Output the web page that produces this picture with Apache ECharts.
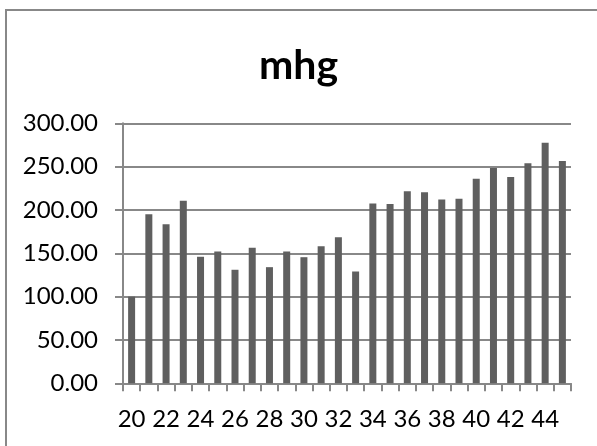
<!DOCTYPE html>
<html><head><meta charset="utf-8">
<script src="https://cdn.jsdelivr.net/npm/echarts@6/dist/echarts.min.js"></script>
<style>html,body{margin:0;padding:0;background:#fff}#c{width:597px;height:446px}</style>
</head><body><div id="c"></div>
<script>
const categories = ['20','21','22','23','24','25','26','27','28','29','30','31','32','33','34','35','36','37','38','39','40','41','42','43','44','45'];
const values = [100,195,183.5,210.5,146,152,131,156.5,134,152,145.5,158,168.5,129,207.5,207,221.5,220.5,212,213,236,248.5,238,254,277.5,256.5];
const titleText = 'mhg';
const yMin = 0, yMax = 300, yStep = 50;

const font = 'Lato, "Open Sans", sans-serif';
const chart = echarts.init(document.getElementById('c'), null, {renderer:'canvas'});
chart.setOption({
  animation:false,
  backgroundColor:'#fff',
  title:{text:titleText,left:'center',top:40,textStyle:{fontFamily:font,fontWeight:'bold',fontSize:41,color:'#000'}},
  graphic:[{type:'rect',shape:{x:6,y:10,width:620,height:460},style:{fill:'none',stroke:'#888',lineWidth:2}}],
  grid:{left:123,right:26,top:123.3,bottom:62.7,containLabel:false},
  xAxis:{type:'category',data:categories,boundaryGap:true,
    axisLine:{show:true,lineStyle:{color:'#888',width:2}},
    axisTick:{show:true,interval:0,length:8,lineStyle:{color:'#888',width:2}},
    axisLabel:{interval:1,margin:24,color:'#000',fontFamily:font,fontSize:24}},
  yAxis:{type:'value',min:yMin,max:yMax,interval:yStep,
    axisLine:{show:true,lineStyle:{color:'#888',width:2}},
    axisTick:{show:true,length:8,lineStyle:{color:'#888',width:2}},
    splitLine:{show:true,lineStyle:{color:'#888',width:2}},
    axisLabel:{margin:25,color:'#000',fontFamily:font,fontSize:24,formatter:v=>v.toFixed(2)}},
  series:[{type:'bar',data:values,barWidth:7,itemStyle:{color:'#5f5f5f'}}]
});
</script></body></html>
